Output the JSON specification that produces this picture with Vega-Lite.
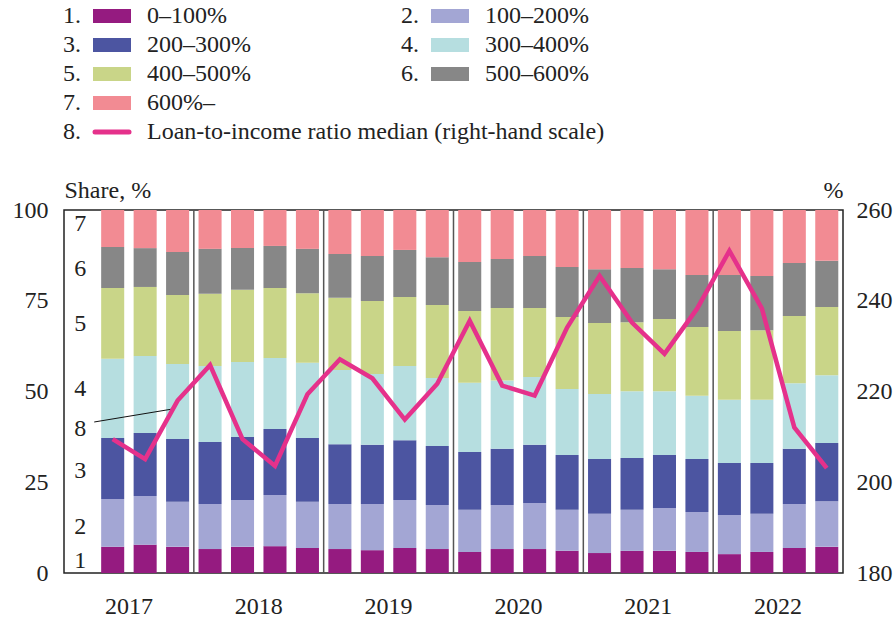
{
  "$schema": "https://vega.github.io/schema/vega-lite/v6.json",
  "padding": {"left": 11, "top": 4, "right": 0, "bottom": 0},
  "bounds": "flush",
  "spacing": 78,
  "config": {
    "font": "Liberation Serif",
    "view": {"stroke": null},
    "axis": {"labelFont": "Liberation Serif", "labelFontSize": 24, "labelColor": "#222", "titleFont": "Liberation Serif", "titleFontSize": 24, "titleFontWeight": "normal", "titleColor": "#222", "ticks": false, "domain": false, "grid": false},
    "text": {"font": "Liberation Serif", "fontSize": 24, "color": "#222"}
  },
  "datasets": {
    "quarters": [
      {"q": "2017 Q2", "c1": 7.2, "c2": 13.2, "c3": 16.8, "c4": 21.8, "c5": 19.5, "c6": 11.3, "c7": 10.2, "m": 209.5},
      {"q": "2017 Q3", "c1": 7.8, "c2": 13.4, "c3": 17.4, "c4": 21.2, "c5": 19.0, "c6": 10.7, "c7": 10.5, "m": 205.1},
      {"q": "2017 Q4", "c1": 7.2, "c2": 12.4, "c3": 17.3, "c4": 20.7, "c5": 19.0, "c6": 11.8, "c7": 11.6, "m": 218.0},
      {"q": "2018 Q1", "c1": 6.6, "c2": 12.4, "c3": 17.1, "c4": 20.9, "c5": 19.9, "c6": 12.4, "c7": 10.7, "m": 225.8},
      {"q": "2018 Q2", "c1": 7.2, "c2": 12.9, "c3": 17.4, "c4": 20.6, "c5": 19.9, "c6": 11.5, "c7": 10.5, "m": 209.5},
      {"q": "2018 Q3", "c1": 7.4, "c2": 14.1, "c3": 18.2, "c4": 19.5, "c5": 19.3, "c6": 11.6, "c7": 9.9, "m": 203.6},
      {"q": "2018 Q4", "c1": 6.9, "c2": 12.7, "c3": 17.6, "c4": 20.7, "c5": 19.2, "c6": 12.2, "c7": 10.7, "m": 219.4},
      {"q": "2019 Q1", "c1": 6.6, "c2": 12.4, "c3": 16.5, "c4": 20.4, "c5": 19.9, "c6": 12.1, "c7": 12.1, "m": 227.1},
      {"q": "2019 Q2", "c1": 6.3, "c2": 12.7, "c3": 16.3, "c4": 19.5, "c5": 20.1, "c6": 12.4, "c7": 12.7, "m": 222.9},
      {"q": "2019 Q3", "c1": 6.9, "c2": 13.2, "c3": 16.5, "c4": 20.4, "c5": 19.0, "c6": 13.0, "c7": 11.0, "m": 213.8},
      {"q": "2019 Q4", "c1": 6.6, "c2": 12.1, "c3": 16.3, "c4": 18.7, "c5": 20.1, "c6": 13.2, "c7": 13.0, "m": 221.7},
      {"q": "2020 Q1", "c1": 5.8, "c2": 11.6, "c3": 15.9, "c4": 19.1, "c5": 19.8, "c6": 13.5, "c7": 14.3, "m": 235.6},
      {"q": "2020 Q2", "c1": 6.6, "c2": 12.1, "c3": 15.5, "c4": 18.8, "c5": 20.0, "c6": 13.5, "c7": 13.5, "m": 221.3},
      {"q": "2020 Q3", "c1": 6.6, "c2": 12.7, "c3": 16.0, "c4": 18.7, "c5": 19.0, "c6": 14.3, "c7": 12.7, "m": 219.1},
      {"q": "2020 Q4", "c1": 6.1, "c2": 11.3, "c3": 15.1, "c4": 18.2, "c5": 19.8, "c6": 13.8, "c7": 15.7, "m": 234.1},
      {"q": "2021 Q1", "c1": 5.5, "c2": 10.8, "c3": 15.1, "c4": 17.9, "c5": 19.6, "c6": 14.8, "c7": 16.3, "m": 245.5},
      {"q": "2021 Q2", "c1": 6.1, "c2": 11.3, "c3": 14.3, "c4": 18.4, "c5": 19.0, "c6": 14.9, "c7": 16.0, "m": 235.2},
      {"q": "2021 Q3", "c1": 6.1, "c2": 11.8, "c3": 14.6, "c4": 17.6, "c5": 19.9, "c6": 13.7, "c7": 16.3, "m": 228.3},
      {"q": "2021 Q4", "c1": 5.8, "c2": 11.0, "c3": 14.6, "c4": 17.4, "c5": 19.0, "c6": 14.3, "c7": 17.9, "m": 238.2},
      {"q": "2022 Q1", "c1": 5.2, "c2": 10.8, "c3": 14.3, "c4": 17.4, "c5": 19.0, "c6": 15.4, "c7": 17.9, "m": 251.0},
      {"q": "2022 Q2", "c1": 5.8, "c2": 10.5, "c3": 14.0, "c4": 17.4, "c5": 19.2, "c6": 14.9, "c7": 18.2, "m": 238.3},
      {"q": "2022 Q3", "c1": 6.9, "c2": 12.1, "c3": 15.2, "c4": 18.1, "c5": 18.5, "c6": 14.6, "c7": 14.6, "m": 212.1},
      {"q": "2022 Q4", "c1": 7.2, "c2": 12.6, "c3": 16.0, "c4": 18.7, "c5": 18.8, "c6": 12.7, "c7": 14.0, "m": 203.1}
    ],
    "seps": [
      {"q": "2018 Q1"}, {"q": "2019 Q1"}, {"q": "2020 Q1"}, {"q": "2021 Q1"}, {"q": "2022 Q1"}
    ],
    "labels": [
      {"q": "2017 Q1", "t": "7", "y": 96.1},
      {"q": "2017 Q1", "t": "6", "y": 83.7},
      {"q": "2017 Q1", "t": "5", "y": 68.6},
      {"q": "2017 Q1", "t": "4", "y": 50.7},
      {"q": "2017 Q1", "t": "8", "y": 39.7},
      {"q": "2017 Q1", "t": "3", "y": 28.1},
      {"q": "2017 Q1", "t": "2", "y": 12.7},
      {"q": "2017 Q1", "t": "1", "y": 3.3}
    ],
    "legend": [
      {"num": "1.", "label": "0–100%", "cat": "c1", "col": 1, "row": 1, "kind": "box"},
      {"num": "2.", "label": "100–200%", "cat": "c2", "col": 2, "row": 1, "kind": "box"},
      {"num": "3.", "label": "200–300%", "cat": "c3", "col": 1, "row": 2, "kind": "box"},
      {"num": "4.", "label": "300–400%", "cat": "c4", "col": 2, "row": 2, "kind": "box"},
      {"num": "5.", "label": "400–500%", "cat": "c5", "col": 1, "row": 3, "kind": "box"},
      {"num": "6.", "label": "500–600%", "cat": "c6", "col": 2, "row": 3, "kind": "box"},
      {"num": "7.", "label": "600%–", "cat": "c7", "col": 1, "row": 4, "kind": "box"},
      {"num": "8.", "label": "Loan-to-income ratio median (right-hand scale)", "cat": "m", "col": 1, "row": 5, "kind": "line"}
    ]
  },
  "vconcat": [
    {
      "width": 338,
      "height": 116,
      "data": {"name": "legend"},
      "layer": [
        {
          "mark": {"type": "text", "align": "left", "baseline": "middle", "xOffset": -1},
          "encoding": {
            "x": {"field": "col", "type": "quantitative", "scale": {"domain": [1, 2], "nice": false, "zero": false}, "axis": null},
            "y": {"field": "row", "type": "quantitative", "scale": {"domain": [1, 5], "nice": false, "zero": false, "reverse": true}, "axis": null},
            "text": {"field": "num"}
          }
        },
        {
          "transform": [{"filter": "datum.kind == 'box'"}],
          "mark": {"type": "rect", "xOffset": 29, "x2Offset": 67, "yOffset": -7, "y2Offset": 7},
          "encoding": {
            "x": {"field": "col", "type": "quantitative"},
            "x2": {"field": "col"},
            "y": {"field": "row", "type": "quantitative"},
            "y2": {"field": "row"},
            "color": {"field": "cat", "type": "nominal", "legend": null,
              "scale": {"domain": ["c1", "c2", "c3", "c4", "c5", "c6", "c7"], "range": ["#951B80", "#A3A6D4", "#4C55A1", "#B6DEE0", "#C9D588", "#878787", "#F28B93"]}}
          }
        },
        {
          "transform": [{"filter": "datum.kind == 'line'"}],
          "mark": {"type": "rule", "xOffset": 31, "x2Offset": 65, "stroke": "#E5318B", "strokeWidth": 5, "strokeCap": "round"},
          "encoding": {
            "x": {"field": "col", "type": "quantitative"},
            "x2": {"field": "col"},
            "y": {"field": "row", "type": "quantitative"}
          }
        },
        {
          "mark": {"type": "text", "align": "left", "baseline": "middle", "xOffset": 83},
          "encoding": {
            "x": {"field": "col", "type": "quantitative"},
            "y": {"field": "row", "type": "quantitative"},
            "text": {"field": "label"}
          }
        }
      ]
    },
    {
      "width": 779,
      "height": 363,
      "view": {"stroke": "#222", "strokeWidth": 1.5},
      "resolve": {"scale": {"y": "independent"}},
      "layer": [
        {
          "layer": [
            {
              "data": {"name": "quarters"},
              "transform": [{"fold": ["c1", "c2", "c3", "c4", "c5", "c6", "c7"], "as": ["cat", "v"]}],
              "mark": {"type": "bar"},
              "encoding": {
                "x": {"field": "q", "type": "nominal",
                  "scale": {"domain": ["2017 Q1", "2017 Q2", "2017 Q3", "2017 Q4", "2018 Q1", "2018 Q2", "2018 Q3", "2018 Q4", "2019 Q1", "2019 Q2", "2019 Q3", "2019 Q4", "2020 Q1", "2020 Q2", "2020 Q3", "2020 Q4", "2021 Q1", "2021 Q2", "2021 Q3", "2021 Q4", "2022 Q1", "2022 Q2", "2022 Q3", "2022 Q4"], "paddingInner": 0.29, "paddingOuter": 0.145},
                  "axis": {"title": null, "labelAngle": 0, "values": ["2017 Q2", "2018 Q2", "2019 Q2", "2020 Q2", "2021 Q2", "2022 Q2"], "labelExpr": "slice(datum.label, 0, 4)", "labelOffset": 16.23, "labelPadding": 21}},
                "y": {"field": "v", "type": "quantitative", "stack": "zero",
                  "scale": {"domain": [0, 100], "nice": false},
                  "axis": {"values": [0, 25, 50, 75, 100], "title": "Share, %", "titleAngle": 0, "titleAlign": "left", "titleBaseline": "alphabetic", "titleX": 0, "titleY": -13, "labelPadding": 16}},
                "color": {"field": "cat", "type": "nominal", "legend": null,
                  "scale": {"domain": ["c1", "c2", "c3", "c4", "c5", "c6", "c7"], "range": ["#951B80", "#A3A6D4", "#4C55A1", "#B6DEE0", "#C9D588", "#878787", "#F28B93"]}},
                "order": {"field": "cat", "sort": "ascending"}
              }
            },
            {
              "data": {"name": "labels"},
              "mark": {"type": "text", "baseline": "middle", "align": "center"},
              "encoding": {
                "x": {"field": "q", "type": "nominal"},
                "y": {"field": "y", "type": "quantitative"},
                "text": {"field": "t"}
              }
            },
            {
              "data": {"values": [{}]},
              "mark": {"type": "rule", "stroke": "#111", "strokeWidth": 1, "xOffset": 14, "x2Offset": -4.6},
              "encoding": {
                "x": {"datum": "2017 Q1", "type": "nominal"},
                "x2": {"datum": "2017 Q4"},
                "y": {"datum": 41.6, "type": "quantitative"},
                "y2": {"datum": 45.2}
              }
            }
          ]
        },
        {
          "data": {"name": "seps"},
          "mark": {"type": "rule", "stroke": "#555", "strokeWidth": 1.5, "xOffset": -16.23},
          "encoding": {
            "x": {"field": "q", "type": "nominal"}
          }
        },
        {
          "data": {"name": "quarters"},
          "mark": {"type": "line", "stroke": "#E5318B", "strokeWidth": 4.5, "strokeJoin": "miter"},
          "encoding": {
            "x": {"field": "q", "type": "nominal"},
            "y": {"field": "m", "type": "quantitative",
              "scale": {"domain": [180, 260], "nice": false, "zero": false},
              "axis": {"orient": "right", "values": [180, 200, 220, 240, 260], "title": "%", "titleAngle": 0, "titleAlign": "right", "titleBaseline": "alphabetic", "titleX": 0, "titleY": -13, "labelPadding": 13}}
          }
        }
      ]
    }
  ]
}
